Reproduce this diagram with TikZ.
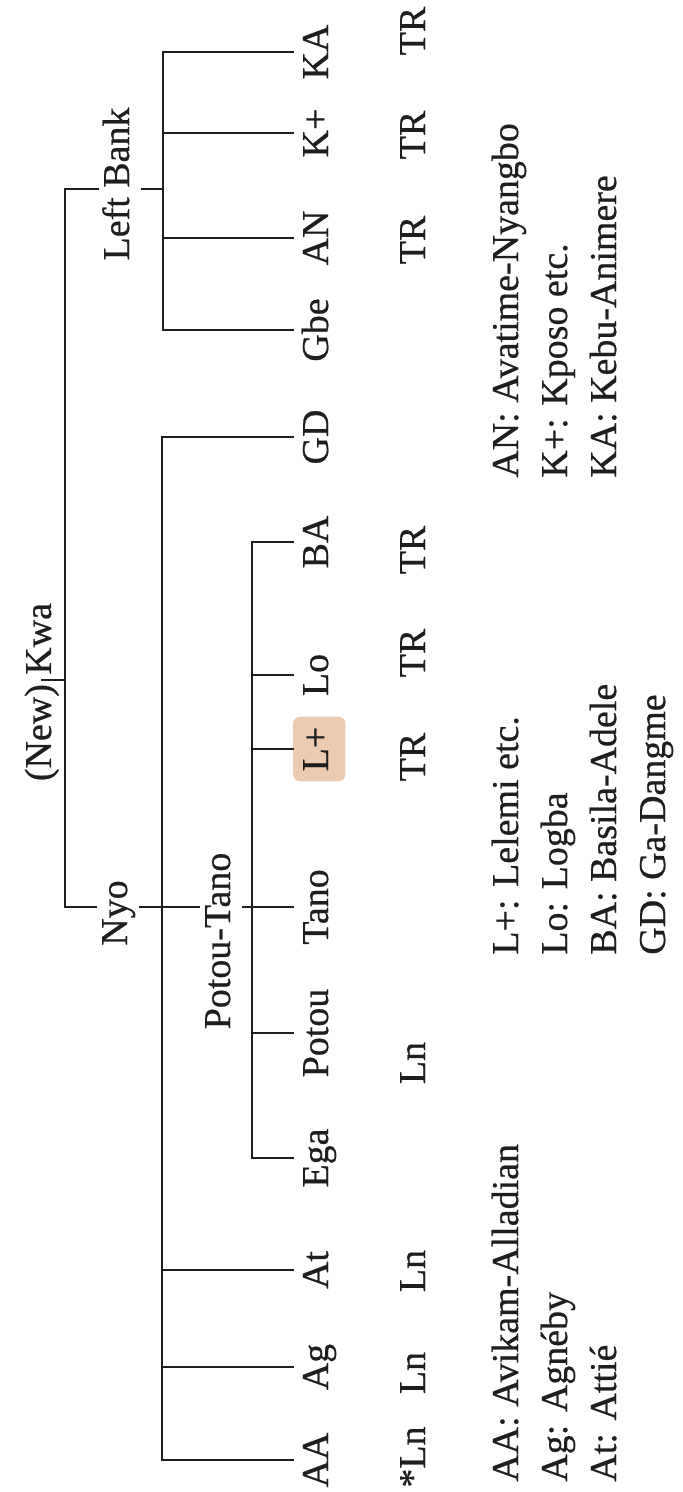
\documentclass[tikz,border=0pt]{standalone}
\usepackage{fontspec}
\setmainfont[FakeBold=0.6]{Liberation Serif}
\usetikzlibrary{positioning,calc}

\definecolor{ink}{RGB}{30,30,30}
\definecolor{stain}{RGB}{214,140,80}

\begin{document}
\begin{tikzpicture}[
    x=0.02cm, y=-0.02cm,
    every node/.style={font=\fontsize{21.6}{26}\selectfont, text=ink, rotate=90, anchor=base, text height=0.5cm, text depth=0.15cm},
    branch/.style={line width=1.6pt, draw=ink, line cap=rect},
    leaf/.style={inner sep=0.2cm},
    clade/.style={inner sep=0.12cm},
    code/.style={inner sep=0pt},
    gloss/.style={anchor=base west, inner sep=0pt},
]
    \useasboundingbox (0,0) rectangle (683,1492);

    % clade labels
    \node[clade] (kwa) at (51,692) {(New) Kwa};
    \node[clade] (lb) at (129,184) {Left Bank};
    \node[clade] (nyo) at (127,913) {Nyo};
    \node[clade] (pt) at (230,941) {Potou-Tano};

    % branch points
    \coordinate (kwaV) at (65,0);
    \coordinate (lbV) at (163,0);
    \coordinate (nyoV) at (162,0);
    \coordinate (ptV) at (252,0);
    \coordinate (kwaY) at (0,680);
    \coordinate (lbY) at (0,189);
    \coordinate (nyoY) at (0,907);

    % Left Bank leaves
    \node[leaf] (ka) at (328,52) {KA};
    \node[leaf] (kp) at (328,133) {K+};
    \node[leaf] (an) at (328,238) {AN};
    \node[leaf] (gbe) at (328,330) {Gbe};

    % Nyo leaves
    \node[leaf] (gd) at (328,437) {GD};
    \node[leaf] (at) at (328,1270) {At};
    \node[leaf] (ag) at (328,1367) {Ag};
    \node[leaf] (aa) at (328,1460) {AA};

    % Potou-Tano leaves
    \node[leaf] (ba) at (328,542) {BA};
    \node[leaf] (lo) at (328,675) {Lo};
    \node[leaf, fill=stain, fill opacity=0.45, text opacity=1, rounded corners=4pt] (lp) at (328,749) {L+};
    \node[leaf] (tano) at (328,907) {Tano};
    \node[leaf] (potou) at (328,1033) {Potou};
    \node[leaf] (ega) at (328,1158) {Ega};

    % TR / Ln row
    \node[code] (trka) at (425,31) {TR};
    \node[code] (trkp) at (425,135) {TR};
    \node[code] (tran) at (425,240) {TR};
    \node[code] (trba) at (425,550) {TR};
    \node[code] (trlo) at (425,653) {TR};
    \node[code] (trlp) at (425,757) {TR};
    \node[code] (lnpotou) at (425,1063) {Ln};
    \node[code] (lnat) at (425,1271) {Ln};
    \node[code] (lnag) at (425,1373) {Ln};
    \node[code] (lnaa) at (425,1457) {*Ln};

    % glosses
    \node[gloss] (gan) at (518,478) {AN: Avatime-Nyangbo};
    \node[gloss] (gkp) at (567,478) {K+: Kposo etc.};
    \node[gloss] (gka) at (616,478) {KA: Kebu-Animere};
    \node[gloss] (glp) at (518,955) {L+: Lelemi etc.};
    \node[gloss] (glo) at (567,955) {Lo: Logba};
    \node[gloss] (gba) at (616,955) {BA: Basila-Adele};
    \node[gloss] (ggd) at (665,955) {GD: Ga-Dangme};
    \node[gloss] (gaa) at (518,1482) {AA: Avikam-Alladian};
    \node[gloss] (gag) at (567,1482) {Ag: Agnéby};
    \node[gloss] (gat) at (616,1482) {At: Attié};

    % root
    \draw[branch] (kwa.center |- kwaY) -- (kwaV |- kwaY);
    \draw[branch] (kwaV |- lbY) -- (kwaV |- nyoY);
    \draw[branch] (kwaV |- lbY) -- (lb.north |- lbY);
    \draw[branch] (kwaV |- nyoY) -- (nyo.north |- nyoY);

    % Left Bank
    \draw[branch] (lb.south |- lbY) -- (lbV |- lbY);
    \draw[branch] (lbV |- ka) -- (lbV |- gbe);
    \foreach \n in {ka,kp,an,gbe}
        \draw[branch] (lbV |- \n) -- (\n.north);

    % Nyo
    \draw[branch] (nyo.south |- nyoY) -- (pt.north |- nyoY);
    \draw[branch] (nyoV |- gd) -- (nyoV |- aa);
    \foreach \n in {gd,at,ag,aa}
        \draw[branch] (nyoV |- \n) -- (\n.north);

    % Potou-Tano
    \draw[branch] (pt.south |- nyoY) -- (tano.north);
    \draw[branch] (ptV |- ba) -- (ptV |- ega);
    \foreach \n in {ba,lo,lp,potou,ega}
        \draw[branch] (ptV |- \n) -- (\n.north);
\end{tikzpicture}
\end{document}
